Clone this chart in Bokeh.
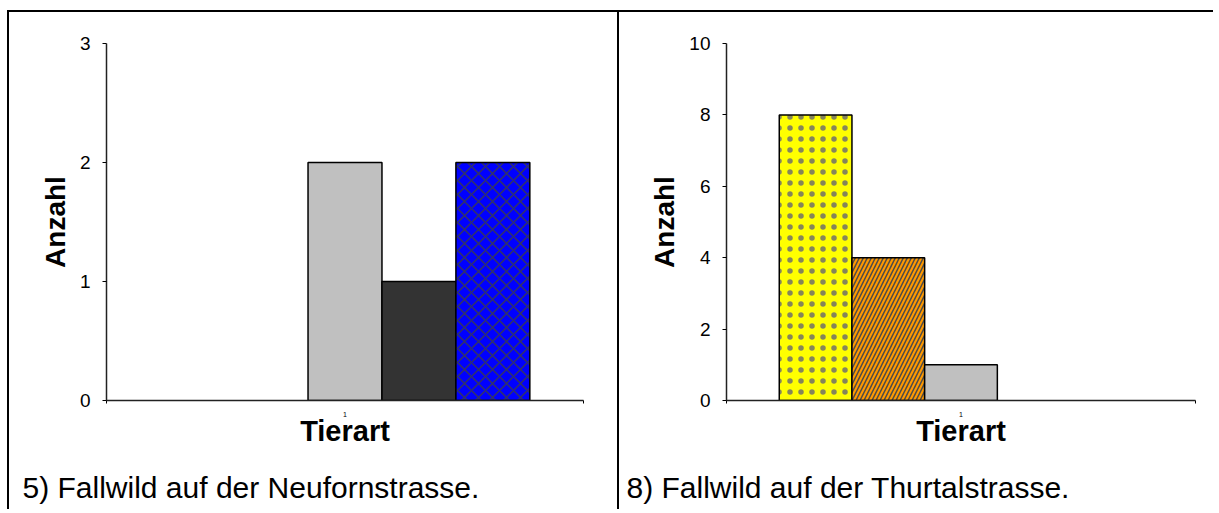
from bokeh.plotting import figure
from bokeh.layouts import row
from bokeh.models import FixedTicker, Range1d, Title
from bokeh.embed import file_html
from bokeh.resources import INLINE

# ---- data ----
serien = ["Serie 1", "Serie 2", "Serie 3", "Serie 4", "Serie 5"]
farben = ["#FFFF00", "#FF9900", "#C0C0C0", "#333333", "#0000FF"]
muster = ["dot", "right_diagonal_line", "", "", "diagonal_cross"]
kategorie = [1]
kategorie_label = ["1"]
neuforn = [0, 0, 2, 1, 2]
thurtal = [8, 4, 1, 0, 0]
yticks_neuforn = [0, 1, 2, 3]
yticks_thurtal = [0, 2, 4, 6, 8, 10]
titel_neuforn = "5) Fallwild auf der Neufornstrasse."
titel_thurtal = "8) Fallwild auf der Thurtalstrasse."
x_titel = "Tierart"
y_titel = "Anzahl"

FONT = "Liberation Sans"
HATCH = {
    "dot": dict(hatch_color="#85855a", hatch_scale=11, hatch_weight=1),
    "right_diagonal_line": dict(hatch_color="#4a4a4a", hatch_scale=8, hatch_weight=1.5),
    "diagonal_cross": dict(hatch_color="#333366", hatch_scale=14, hatch_weight=1.5),
}


def make_panel(values, yticks, caption, width, mb_left, mb_right, cap_off):
    p = figure(width=width, height=499,
               x_range=Range1d(0.5, 1.5), y_range=Range1d(0, yticks[-1]),
               output_backend="svg", toolbar_location=None,
               min_border_left=mb_left, min_border_right=mb_right,
               min_border_top=31, min_border_bottom=111)
    p.xgrid.visible = False
    p.ygrid.visible = False
    p.outline_line_color = None
    p.background_fill_color = "white"
    p.border_fill_color = "white"

    bw = 0.155
    for i, (s, v, c, m) in enumerate(zip(serien, values, farben, muster)):
        if v == 0:
            continue
        kw = dict(HATCH.get(m, {}))
        if m:
            kw["hatch_pattern"] = m
        p.vbar(x=[kategorie[0] + (i - 2) * bw], top=[v], width=bw,
               fill_color=c, line_color="black", line_width=1.5, **kw)

    xa = p.xaxis[0]
    xa.ticker = FixedTicker(ticks=kategorie, minor_ticks=[0.5, 1.5])
    xa.major_label_overrides = {k: l for k, l in zip(kategorie, kategorie_label)}
    xa.major_label_text_font_size = "7px"
    xa.major_label_text_font = FONT
    xa.major_label_text_color = "black"
    xa.major_tick_out = 0
    xa.major_tick_in = 0
    xa.minor_tick_out = 3
    xa.minor_tick_in = 0
    xa.major_label_standoff = 8
    xa.axis_label = x_titel
    xa.axis_label_text_font = FONT
    xa.axis_label_text_font_size = "29px"
    xa.axis_label_text_font_style = "bold"
    xa.axis_label_text_color = "black"
    xa.axis_label_standoff = -5
    xa.axis_line_color = "#222222"
    xa.axis_line_width = 1.5

    ya = p.yaxis[0]
    ya.ticker = FixedTicker(ticks=yticks)
    ya.minor_tick_line_color = None
    ya.major_tick_out = 4
    ya.major_tick_in = 0
    ya.major_label_text_font = FONT
    ya.major_label_text_font_size = "19px"
    ya.major_label_text_color = "black"
    ya.major_label_standoff = 12
    ya.axis_label = y_titel
    ya.axis_label_text_font = FONT
    ya.axis_label_text_font_size = "28px"
    ya.axis_label_text_font_style = "bold"
    ya.axis_label_text_color = "black"
    ya.axis_label_standoff = 6
    ya.axis_line_color = "#222222"
    ya.axis_line_width = 1.5

    # blank spacer between the axis title and the caption
    p.add_layout(Title(text=" ", text_font_size="1px", standoff=16), "below")
    cap = Title(text=caption, align="left", offset=cap_off, standoff=0,
                text_font=FONT, text_font_size="30px", text_font_style="normal",
                text_color="black")
    p.add_layout(cap, "below")
    p.styles = {"border-left": "2px solid black", "border-top": "2px solid black"}
    return p


p1 = make_panel(neuforn, yticks_neuforn, titel_neuforn, 610, 97, 36, -84)
p2 = make_panel(thurtal, yticks_thurtal, titel_thurtal, 596, 107, 20, -100)

layout = row(p1, p2)
layout.styles = {"margin-left": "7px", "margin-top": "10px"}
open("out.html", "w").write(file_html(layout, INLINE))
